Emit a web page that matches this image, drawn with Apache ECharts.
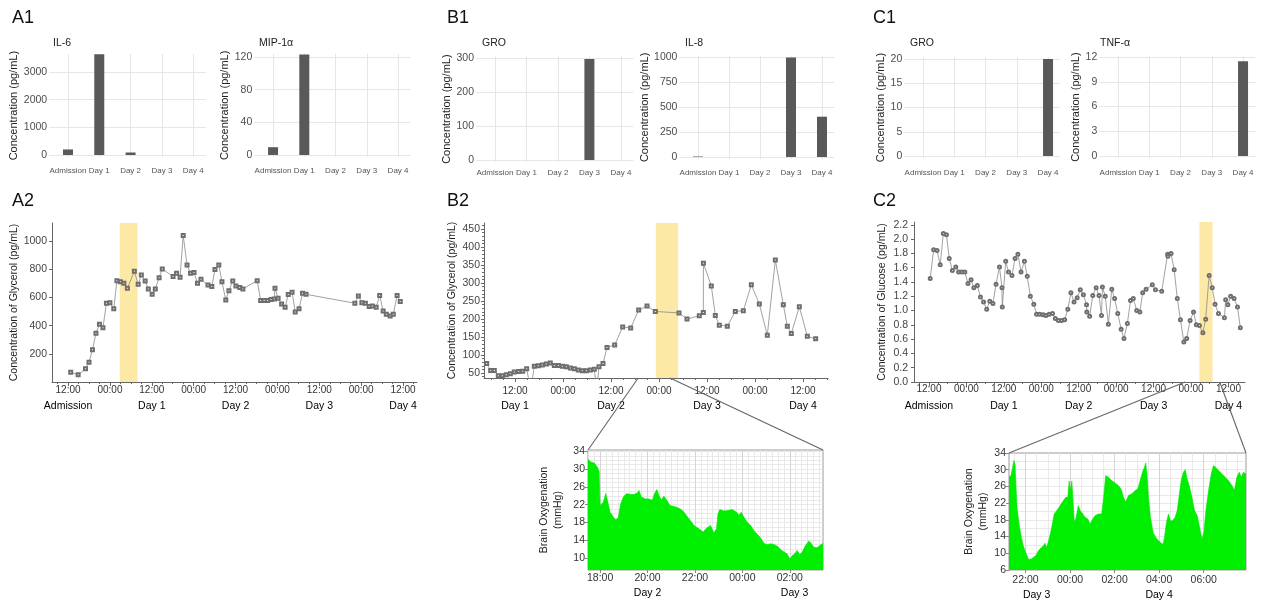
<!DOCTYPE html>
<html>
<head>
<meta charset="utf-8">
<title>Cytokines, glycerol, glucose and brain oxygenation</title>
<script src="https://cdn.jsdelivr.net/npm/echarts@6/dist/echarts.min.js"></script>
<style>
  * { margin: 0; padding: 0; }
  body { background: #fff; }
  #main { width: 1262px; height: 602px; }
</style>
</head>
<body>
<div id="main"></div>
<script>
// ---------- data (time = hours after admission at 12:00) ----------
var barCats = ['Admission', 'Day 1', 'Day 2', 'Day 3', 'Day 4'];
var il6   = [200, 3640, 90, 0, 0];
var mip1a = [9.5, 123, 0, 0, 0];
var groB  = [0, 0, 0, 297, 0];
var il8   = [5, 0, 0, 995, 403];
var groC  = [0, 0, 0, 0, 20];
var tnfa  = [0, 0, 0, 0, 11.5];

var il6Ticks  = [0, 1000, 2000, 3000];
var mipTicks  = [0, 40, 80, 120];
var groBTicks = [0, 100, 200, 300];
var il8Ticks  = [0, 250, 500, 750, 1000];
var groCTicks = [0, 5, 10, 15, 20];
var tnfTicks  = [0, 3, 6, 9, 12];

var a2Hours = [0.76,2.9,5.0,6.0,7.0,8.0,9.0,10.0,11.0,12.0,13.1,14.0,15.0,16.0,17.0,19.0,20.1,21.0,22.1,23.0,
  24.1,25.0,26.1,27.0,30.1,31.1,32.1,33.0,34.1,35.1,36.1,37.1,38.1,40.1,41.2,42.1,43.2,44.1,45.2,46.1,
  47.2,48.1,49.2,50.1,54.2,55.2,56.2,57.2,58.2,59.1,59.3,60.2,61.2,62.2,63.1,64.2,65.1,66.2,67.2,68.2,
  82.2,83.2,84.2,85.2,86.3,87.2,88.3,89.3,90.3,91.2,92.3,93.2,94.3,95.2];
var a2Glycerol = [70,51,94,141,228,346,410,384,559,563,519,719,712,700,665,785,693,759,717,660,
  622,660,740,802,748,771,743,1040,830,771,776,700,729,688,677,799,830,712,582,648,
  717,681,670,660,719,578,578,578,585,589,665,594,554,530,620,637,497,519,629,622,
  559,611,563,559,535,540,530,613,504,481,469,481,613,571];

var b2Hours = [16.92,17.92,18.83,19.83,20.83,21.83,22.83,23.83,24.92,25.92,26.92,27.92,
  28.83,29.83,30.83,31.83,32.83,33.83,34.83,35.83,36.83,37.83,38.83,39.83,40.83,41.83,42.83,43.83,
  44.42,45.0,46.0,47.0,48.92,50.92,52.92,54.92,57.0,59.08,65.0,67.0,70.08,71.08,71.1,
  73.08,74.08,75.08,77.08,79.08,81.08,83.08,85.08,87.08,89.08,91.08,92.08,93.08,95.08,97.08,99.17];
var b2Glycerol = [76,57,57,42,42,45,48,53,54,55,62,2,
  69,70,72,75,78,71,71,69,67,64,62,58,56,56,58,60,
  2,67,76,121,128,178,175,225,236,221,217,200,209,218,355,
  292,210,183,180,221,223,295,242,155,364,240,180,160,234,152,145];

var c2Hours = [0.4,1.5,2.6,3.6,4.6,5.6,6.5,7.5,8.6,9.5,10.5,11.5,12.5,13.5,14.4,15.5,16.5,17.5,18.5,19.5,
  20.5,21.5,22.6,23.4,23.5,24.6,25.5,26.6,27.6,28.5,29.5,30.6,31.5,32.5,33.6,34.5,35.5,36.6,37.5,38.5,
  39.6,40.5,41.5,42.5,43.5,44.5,45.5,46.5,47.5,48.5,49.5,50.5,50.6,51.5,52.5,53.6,54.5,55.3,55.6,56.5,
  57.5,58.6,59.5,60.5,61.6,62.5,63.6,64.6,65.5,66.6,67.6,68.5,69.6,71.6,72.6,74.6,76.5,76.6,77.6,78.6,
  79.6,80.6,81.7,82.6,83.7,84.8,85.7,86.7,87.8,88.7,89.8,90.8,91.7,92.8,94.7,95.1,95.8,96.7,97.8,98.9,99.8];
var c2Glucose = [1.45,1.85,1.84,1.64,2.08,2.06,1.73,1.56,1.61,1.54,1.54,1.54,1.38,1.43,1.32,1.35,1.19,1.12,1.02,1.13,
  1.10,1.37,1.61,1.32,1.05,1.69,1.54,1.49,1.73,1.79,1.54,1.69,1.48,1.20,1.09,0.95,0.95,0.94,0.93,0.95,
  0.96,0.89,0.86,0.86,0.87,1.02,1.25,1.12,1.18,1.29,1.22,1.08,0.98,0.92,1.21,1.32,1.21,0.93,1.33,1.20,
  0.81,1.30,1.17,0.96,0.74,0.61,0.82,1.14,1.17,1.00,0.98,1.25,1.30,1.36,1.29,1.27,1.79,1.76,1.80,1.57,
  1.17,0.87,0.56,0.61,0.86,0.98,0.80,0.79,0.69,0.88,1.49,1.32,1.09,0.96,0.90,1.15,1.08,1.20,1.17,1.05,0.76];

var b2InsetHours = [53.49,53.61,53.68,53.75,53.89,53.96,54.00,54.05,54.14,54.24,
  54.31,54.42,54.56,54.66,54.76,54.87,54.98,55.12,55.29,55.43,55.57,55.64,55.74,55.92,56.06,56.20,56.30,56.39,56.48,56.58,
  56.69,56.81,56.95,57.12,57.28,57.42,57.54,57.68,57.82,57.96,58.10,58.24,58.35,58.46,58.52,58.66,58.80,58.91,58.97,59.05,
  59.22,59.39,59.57,59.76,59.85,59.95,60.06,60.20,60.35,60.48,60.62,60.77,60.91,61.04,61.19,61.36,61.49,61.63,61.78,61.89,
  62.00,62.10,62.20,62.31,62.42,62.52,62.66,62.80,62.90,63.01,63.15,63.26,63.40];
var b2InsetO2 = [32.2,31.6,32.0,31.4,30.4,29.4,21.8,21.8,22.6,24.5,
  23.0,20.3,19.2,18.6,19.0,22.2,23.7,24.5,24.3,24.3,24.6,25.2,23.7,23.3,23.3,23.0,24.5,25.4,24.1,23.1,
  23.9,23.0,21.8,21.6,21.3,20.9,20.3,19.3,18.3,17.3,16.8,16.3,15.8,16.6,16.9,17.3,15.6,16.6,19.9,20.9,
  20.6,20.7,20.9,20.3,19.6,20.3,19.2,18.1,17.3,16.2,15.4,14.5,13.3,13.0,13.2,13.0,12.6,11.8,11.3,10.9,
  9.8,10.5,10.9,11.7,10.8,11.3,12.8,13.8,13.3,12.4,12.3,12.8,13.3];

var c2InsetHours = [81.26,81.35,81.41,81.48,81.53,81.57,81.62,81.71,81.80,81.90,
  82.01,82.13,82.25,82.35,82.46,82.58,82.70,82.80,82.88,82.95,83.06,83.18,83.29,83.40,83.51,83.60,83.70,83.81,83.90,83.96,
  84.01,84.08,84.13,84.19,84.28,84.37,84.46,84.55,84.67,84.80,84.90,85.00,85.12,85.27,85.42,85.51,85.60,85.72,85.87,86.02,
  86.17,86.29,86.40,86.50,86.62,86.77,86.92,87.04,87.15,87.25,87.34,87.40,87.46,87.52,87.61,87.73,87.85,87.97,88.09,88.18,
  88.24,88.33,88.42,88.51,88.60,88.72,88.81,88.90,88.99,89.09,89.17,89.26,89.35,89.47,89.59,89.71,89.83,89.92,90.01,90.10,
  90.22,90.34,90.44,90.55,90.67,90.82,90.97,91.11,91.27,91.38,91.49,91.60,91.69,91.78,91.90];
var c2InsetO2 = [28.2,28.6,30.2,32.2,31.4,26.6,21.0,17.0,14.2,11.8,
  10.2,8.6,8.6,9.0,9.4,10.6,11.3,11.8,12.4,11.4,13.4,16.2,19.4,20.2,21.0,21.8,22.6,23.4,23.4,27.3,
  25.0,27.3,23.0,17.4,18.6,21.4,20.2,19.6,18.6,18.2,17.0,18.0,19.0,19.4,19.4,23.4,28.6,28.2,27.4,26.8,
  26.2,25.4,23.4,22.2,23.8,24.2,25.0,25.4,27.4,29.4,30.6,31.6,28.6,23.4,18.6,15.0,13.8,13.0,12.4,12.2,
  13.8,17.4,19.4,17.7,17.8,18.6,20.2,23.8,27.4,29.4,30.0,27.8,26.2,23.4,20.2,19.0,15.8,13.4,15.0,20.2,
  25.0,29.0,31.0,30.5,29.8,29.0,28.2,27.4,26.2,25.0,28.2,29.4,28.2,29.4,29.0];

// tick labels
var clockHoursA = [0, 12, 24, 36, 48, 60, 72, 84, 96];
var clockHoursB = [24, 36, 48, 60, 72, 84, 96];
var dayHoursA = [0, 24, 48, 72, 96];
var dayNamesA = ['Admission', 'Day 1', 'Day 2', 'Day 3', 'Day 4'];
var dayHoursB = [24, 48, 72, 96];
var dayNamesB = ['Day 1', 'Day 2', 'Day 3', 'Day 4'];
var a2Ticks = [200, 400, 600, 800, 1000];
var b2Ticks = [50, 100, 150, 200, 250, 300, 350, 400, 450];
var c2Ticks = [0, 0.2, 0.4, 0.6, 0.8, 1.0, 1.2, 1.4, 1.6, 1.8, 2.0, 2.2];
var insetBClock = [54, 56, 58, 60, 62];
var insetBDayHours = [56, 62.2];
var insetBDays = ['Day 2', 'Day 3'];
var insetCClock = [82, 84, 86, 88, 90];
var insetCDayHours = [82.5, 88];
var insetCDays = ['Day 3', 'Day 4'];
var insetBTicks = [10, 14, 18, 22, 26, 30, 34];
var insetCTicks = [6, 10, 14, 18, 22, 26, 30, 34];

// highlighted periods and zoom links (hours)
var a2Band = [14.8, 19.9];
var b2Band = [59.2, 64.8];
var c2Band = [86.7, 90.9];
var b2Link = [54.8, 62.75];
var c2Link = [82.1, 93.2];

// ---------- helpers ----------
var FONT = '"Liberation Sans", Arial, Helvetica, sans-serif';
var GRIDC = '#e6e6e6';
var AXC = '#666';
var grids = [], xAxes = [], yAxes = [], series = [], titles = [];

function addGrid(g) { g.outerBoundsMode = 'none'; grids.push(g); return grids.length - 1; }
function addX(a) { xAxes.push(a); return xAxes.length - 1; }
function addY(a) { yAxes.push(a); return yAxes.length - 1; }
function steps(a, b, s) { var out = []; for (var v = a; v <= b + 1e-9; v += s) out.push(+v.toFixed(4)); return out; }
function clock(v) { var h = ((Math.round(12 + v) % 24) + 24) % 24; return (h < 10 ? '0' : '') + h + ':00'; }
function plain(v) { return String(+v); }
function pairs(xs, ys) { return xs.map(function (x, i) { return [x, ys[i]]; }); }
function nameAt(vals, names) { return function (v) { var i = vals.indexOf(+v); return i < 0 ? '' : names[i]; }; }

function barPanel(p) {
  var g = addGrid({ left: p.left, top: p.top, width: p.width, height: p.height });
  var idx = barCats.map(function (c, i) { return i; });
  var xi = addX({
    gridIndex: g, type: 'value', min: -0.6, max: 4.4,
    axisLine: { show: false, onZero: false },
    axisTick: { show: false, customValues: idx },
    splitLine: { show: true, lineStyle: { color: GRIDC, width: 1 } },
    axisLabel: { customValues: idx, formatter: function (v) { return barCats[Math.round(v)]; },
      fontSize: 8, color: '#555', margin: p.xMargin }
  });
  var yi = addY({
    gridIndex: g, type: 'value', min: p.min, max: p.max,
    name: 'Concentration (pg/mL)', nameLocation: 'middle', nameGap: p.nameGap,
    nameTextStyle: { fontSize: 11, color: '#222' },
    axisLine: { show: false, onZero: false },
    axisTick: { show: false, customValues: p.ticks },
    splitLine: { show: true, lineStyle: { color: GRIDC, width: 1 } },
    axisLabel: { customValues: p.ticks, formatter: plain, fontSize: 10.5, color: '#4d4d4d', margin: 2 }
  });
  series.push({ type: 'bar', xAxisIndex: xi, yAxisIndex: yi, barWidth: 10, silent: true,
    itemStyle: { color: '#595959' }, data: pairs(idx, p.values) });
  titles.push({ text: p.title, left: p.titleX, top: 38, padding: 0,
    textStyle: { fontSize: 10.5, fontWeight: 'normal', color: '#222', fontFamily: FONT } });
}

function linePanel(p) {
  var g = addGrid({ left: p.left, top: p.top, width: p.width, height: p.height });
  var xi = addX({ gridIndex: g, type: 'value', position: 'bottom', min: p.xMin, max: p.xMax,
    axisLine: { show: true, onZero: false, lineStyle: { color: AXC, width: 1 } },
    axisTick: { show: true, customValues: p.clockHours, length: 4, lineStyle: { color: AXC } },
    axisLabel: { customValues: p.clockHours, formatter: clock, fontSize: 10, color: '#333', margin: p.clockMargin },
    splitLine: { show: false } });
  addX({ gridIndex: g, type: 'value', position: 'bottom', min: p.xMin, max: p.xMax,
    axisLine: { show: false, onZero: false },
    axisTick: { show: true, customValues: steps(Math.ceil(p.xMin / 3) * 3, p.xMax, 3), length: 2, lineStyle: { color: AXC } },
    axisLabel: { show: false }, splitLine: { show: false } });
  addX({ gridIndex: g, type: 'value', position: 'bottom', min: p.xMin, max: p.xMax,
    axisLine: { show: false, onZero: false }, axisTick: { show: false },
    axisLabel: { customValues: p.dayHours, formatter: nameAt(p.dayHours, p.dayNames), fontSize: 10.5, color: '#000', margin: p.dayMargin },
    splitLine: { show: false } });
  var yi = addY({ gridIndex: g, type: 'value', position: 'left', min: p.yMin, max: p.yMax,
    name: p.name, nameLocation: 'middle', nameGap: p.nameGap,
    nameTextStyle: { fontSize: 10.5, color: '#222' },
    axisLine: { show: true, onZero: false, lineStyle: { color: AXC, width: 1 } },
    axisTick: { show: true, customValues: p.yTicks, length: 3, lineStyle: { color: AXC } },
    axisLabel: { customValues: p.yTicks, fontSize: 10.5, color: '#444', margin: p.yMargin, formatter: p.yFmt || plain },
    splitLine: { show: false } });
  if (p.minorY) {
    addY({ gridIndex: g, type: 'value', position: 'left', min: p.yMin, max: p.yMax,
      axisLine: { show: false, onZero: false },
      axisTick: { show: true, customValues: p.minorY, length: 2, lineStyle: { color: AXC } },
      axisLabel: { show: false }, splitLine: { show: false } });
  }
  series.push({ type: 'line', xAxisIndex: xi, yAxisIndex: yi, data: pairs(p.hours, p.values),
    symbol: p.symbol, symbolSize: 3, showSymbol: true, silent: true, clip: true,
    lineStyle: { color: '#8a8a8a', width: 0.8 },
    itemStyle: { color: '#6e6e6e', borderWidth: 0.7 },
    markArea: { silent: true, itemStyle: { color: '#fde9a6', opacity: 1 },
      data: [[{ xAxis: p.band[0] }, { xAxis: p.band[1] }]] } });
  return { s: series.length - 1, yMin: p.yMin };
}

function insetPanel(p) {
  var g = addGrid({ left: p.left, top: p.top, width: p.width, height: p.height,
    show: true, borderColor: '#999', borderWidth: 1, backgroundColor: '#fff' });
  addX({ gridIndex: g, type: 'value', position: 'bottom', min: p.xMin, max: p.xMax,
    axisLine: { show: false, onZero: false }, axisTick: { show: false, customValues: p.fineX },
    axisLabel: { show: false }, splitLine: { show: true, lineStyle: { color: '#e3e3e3', width: 0.8 } } });
  addY({ gridIndex: g, type: 'value', position: 'left', min: p.yMin, max: p.yMax,
    axisLine: { show: false, onZero: false }, axisTick: { show: false, customValues: p.fineY },
    axisLabel: { show: false }, splitLine: { show: true, lineStyle: { color: '#e3e3e3', width: 0.8 } } });
  var xi = addX({ gridIndex: g, type: 'value', position: 'bottom', min: p.xMin, max: p.xMax,
    axisLine: { show: false, onZero: false },
    axisTick: { show: true, customValues: p.clock, length: 3, lineStyle: { color: '#888' } },
    axisLabel: { customValues: p.clock, formatter: clock, fontSize: 10.5, color: '#333', margin: p.clockMargin },
    splitLine: { show: true, lineStyle: { color: '#cfcfcf', width: 0.8 } } });
  addX({ gridIndex: g, type: 'value', position: 'bottom', min: p.xMin, max: p.xMax,
    axisLine: { show: false, onZero: false }, axisTick: { show: false },
    axisLabel: { customValues: p.dayHours, formatter: nameAt(p.dayHours, p.dayNames), fontSize: 10.5, color: '#000', margin: p.dayMargin },
    splitLine: { show: false } });
  var yi = addY({ gridIndex: g, type: 'value', position: 'left', min: p.yMin, max: p.yMax,
    name: 'Brain Oxygenation\n(mmHg)', nameLocation: 'middle', nameGap: p.nameGap,
    nameTextStyle: { fontSize: 10.5, lineHeight: 14, color: '#222' },
    axisLine: { show: false, onZero: false },
    axisTick: { show: true, customValues: p.yTicks, length: 3, lineStyle: { color: '#888' } },
    axisLabel: { customValues: p.yTicks, formatter: plain, fontSize: 10.5, color: '#333', margin: 3 },
    splitLine: { show: false } });
  series.push({ type: 'line', xAxisIndex: xi, yAxisIndex: yi, data: pairs(p.hours, p.values),
    symbol: 'none', showSymbol: false, silent: true, clip: true,
    lineStyle: { color: '#00e400', width: 0.6 },
    areaStyle: { color: '#00ee00', opacity: 1, origin: 'start' } });
  return { s: series.length - 1, xMin: p.xMin, xMax: p.xMax, yMax: p.yMax };
}

// ---------- panels ----------
barPanel({ title: 'IL-6', titleX: 53, values: il6, ticks: il6Ticks, left: 49.2, top: 54, width: 156.5, height: 103.2,
  min: -80, max: 3650, nameGap: 21.5, xMargin: 9.8 });
barPanel({ title: 'MIP-1\u03b1', titleX: 259, values: mip1a, ticks: mipTicks, left: 254.3, top: 53.7, width: 156.25, height: 103.3,
  min: -2.5, max: 124, nameGap: 11.3, xMargin: 10 });
barPanel({ title: 'GRO', titleX: 482, values: groB, ticks: groBTicks, left: 476, top: 56.3, width: 157.5, height: 105.7,
  min: -6, max: 305, nameGap: 16, xMargin: 6.3 });
barPanel({ title: 'IL-8', titleX: 685, values: il8, ticks: il8Ticks, left: 679.4, top: 55.8, width: 155, height: 103.2,
  min: -20, max: 1012, nameGap: 23.4, xMargin: 9.3 });
barPanel({ title: 'GRO', titleX: 910, values: groC, ticks: groCTicks, left: 904.3, top: 57.1, width: 156.25, height: 100.9,
  min: -0.4, max: 20.4, nameGap: 16.6, xMargin: 10.7 });
barPanel({ title: 'TNF-\u03b1', titleX: 1100, values: tnfa, ticks: tnfTicks, left: 1099.3, top: 56.2, width: 156.25, height: 101.8,
  min: -0.24, max: 12.1, nameGap: 8.3, xMargin: 10.7 });

var a2 = linePanel({ left: 52, top: 223, width: 365, height: 159, xMin: -4.6, xMax: 100, yMin: 0, yMax: 1128,
  hours: a2Hours, values: a2Glycerol, band: a2Band, symbol: 'emptyRect',
  clockHours: clockHoursA, dayHours: dayHoursA, dayNames: dayNamesA, yTicks: a2Ticks,
  name: 'Concentration of Glycerol (pg/mL)', nameGap: 24.3, clockMargin: 3.2, dayMargin: 19, yMargin: 5 });
var b2 = linePanel({ left: 484, top: 223, width: 344, height: 155, xMin: 16.25, xMax: 102.25, yMin: 36, yMax: 467,
  hours: b2Hours, values: b2Glycerol, band: b2Band, symbol: 'emptyRect',
  clockHours: clockHoursB, dayHours: dayHoursB, dayNames: dayNamesB, yTicks: b2Ticks, minorY: steps(40, 460, 10),
  name: 'Concentration of Glycerol (pg/mL)', nameGap: 26.3, clockMargin: 8, dayMargin: 23, yMargin: 4 });
var c2 = linePanel({ left: 914, top: 222, width: 331, height: 160, xMin: -4.8, xMax: 101.3, yMin: 0, yMax: 2.24,
  hours: c2Hours, values: c2Glucose, band: c2Band, symbol: 'emptyCircle',
  clockHours: clockHoursA, dayHours: dayHoursA, dayNames: dayNamesA, yTicks: c2Ticks,
  yFmt: function (v) { return (+v).toFixed(1); },
  name: 'Concentration of Glucose (pg/mL)', nameGap: 26, clockMargin: 2.5, dayMargin: 19, yMargin: 6 });

var b2In = insetPanel({ left: 588, top: 450, width: 235, height: 120, xMin: 53.49, xMax: 63.4, yMin: 7.3, yMax: 34.3,
  hours: b2InsetHours, values: b2InsetO2, fineX: steps(53.5, 63.25, 0.25), fineY: steps(8, 34, 1),
  clock: insetBClock, dayHours: insetBDayHours, dayNames: insetBDays, yTicks: insetBTicks,
  nameGap: 23, clockMargin: 2.8, dayMargin: 17.6 });
var c2In = insetPanel({ left: 1009, top: 453, width: 237, height: 117, xMin: 81.26, xMax: 91.9, yMin: 6, yMax: 34,
  hours: c2InsetHours, values: c2InsetO2, fineX: steps(81.5, 91.5, 0.5), fineY: steps(8, 32, 2),
  clock: insetCClock, dayHours: insetCDayHours, dayNames: insetCDays, yTicks: insetCTicks,
  nameGap: 19, clockMargin: 4.5, dayMargin: 19.3 });

var chart = echarts.init(document.getElementById('main'));
chart.setOption({
  animation: false,
  backgroundColor: '#fff',
  textStyle: { fontFamily: FONT },
  title: titles,
  grid: grids,
  xAxis: xAxes,
  yAxis: yAxes,
  series: series
});

// panel letters and zoom connector lines
function px(s, pt) { return chart.convertToPixel({ seriesIndex: s }, pt); }
var links = [
  [px(b2.s, [b2Link[0], b2.yMin]), px(b2In.s, [b2In.xMin, b2In.yMax])],
  [px(b2.s, [b2Link[1], b2.yMin]), px(b2In.s, [b2In.xMax, b2In.yMax])],
  [px(c2.s, [c2Link[0], c2.yMin]), px(c2In.s, [c2In.xMin, c2In.yMax])],
  [px(c2.s, [c2Link[1], c2.yMin]), px(c2In.s, [c2In.xMax, c2In.yMax])]
];
var letters = [['A1', 12, 9], ['B1', 447, 9], ['C1', 873, 9], ['A2', 12, 192], ['B2', 447, 192], ['C2', 873, 192]];
var graphic = letters.map(function (l) {
  return { type: 'text', left: l[1], top: l[2], silent: true,
    style: { text: l[0], fontSize: 18, fontFamily: FONT, fill: '#111' } };
});
links.forEach(function (ln) {
  graphic.push({ type: 'line', silent: true, z: 50,
    shape: { x1: ln[0][0], y1: ln[0][1], x2: ln[1][0], y2: ln[1][1] },
    style: { stroke: '#666', lineWidth: 1.1 } });
});
chart.setOption({ graphic: graphic });
</script>
</body>
</html>
